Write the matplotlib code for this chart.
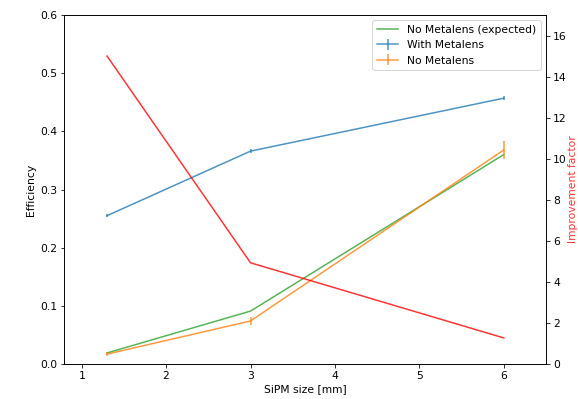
import matplotlib
matplotlib.use("Agg")
import matplotlib.pyplot as plt

sipm_size = [1.3, 3, 6]
eff_with = [0.255, 0.366, 0.457]
eff_with_err = [0.003, 0.003, 0.003]
eff_without = [0.017, 0.074, 0.368]
eff_without_err = [0.003, 0.007, 0.015]
eff_expected = [0.019, 0.091, 0.360]
improvement = [15.0, 4.93, 1.27]

plt.rcParams["font.size"] = 10.8

fig = plt.figure(figsize=(578 / 72, 399 / 72), dpi=72)
ax = fig.add_axes([0.1107, 0.0877, 0.8339, 0.8747])

ax.plot(sipm_size, eff_expected, color="C2", alpha=0.8, label="No Metalens (expected)")
ax.errorbar(sipm_size, eff_with, yerr=eff_with_err, color="C0", alpha=0.8, label="With Metalens")
ax.errorbar(sipm_size, eff_without, yerr=eff_without_err, color="C1", alpha=0.8, label="No Metalens")
ax.set_xlim(0.79, 6.5)
ax.set_ylim(0, 0.6)
ax.set_xlabel("SiPM size [mm]", labelpad=3)
ax.set_ylabel("Efficiency")
ax.legend(loc="upper right")

ax2 = ax.twinx()
ax2.plot(sipm_size, improvement, color="red", alpha=0.8)
ax2.set_ylim(0, 17)
ax2.set_yticks(range(0, 17, 2))
ax2.set_ylabel("Improvement factor", color="red", alpha=0.8, labelpad=1)

fig.savefig("out.png", dpi=72)
